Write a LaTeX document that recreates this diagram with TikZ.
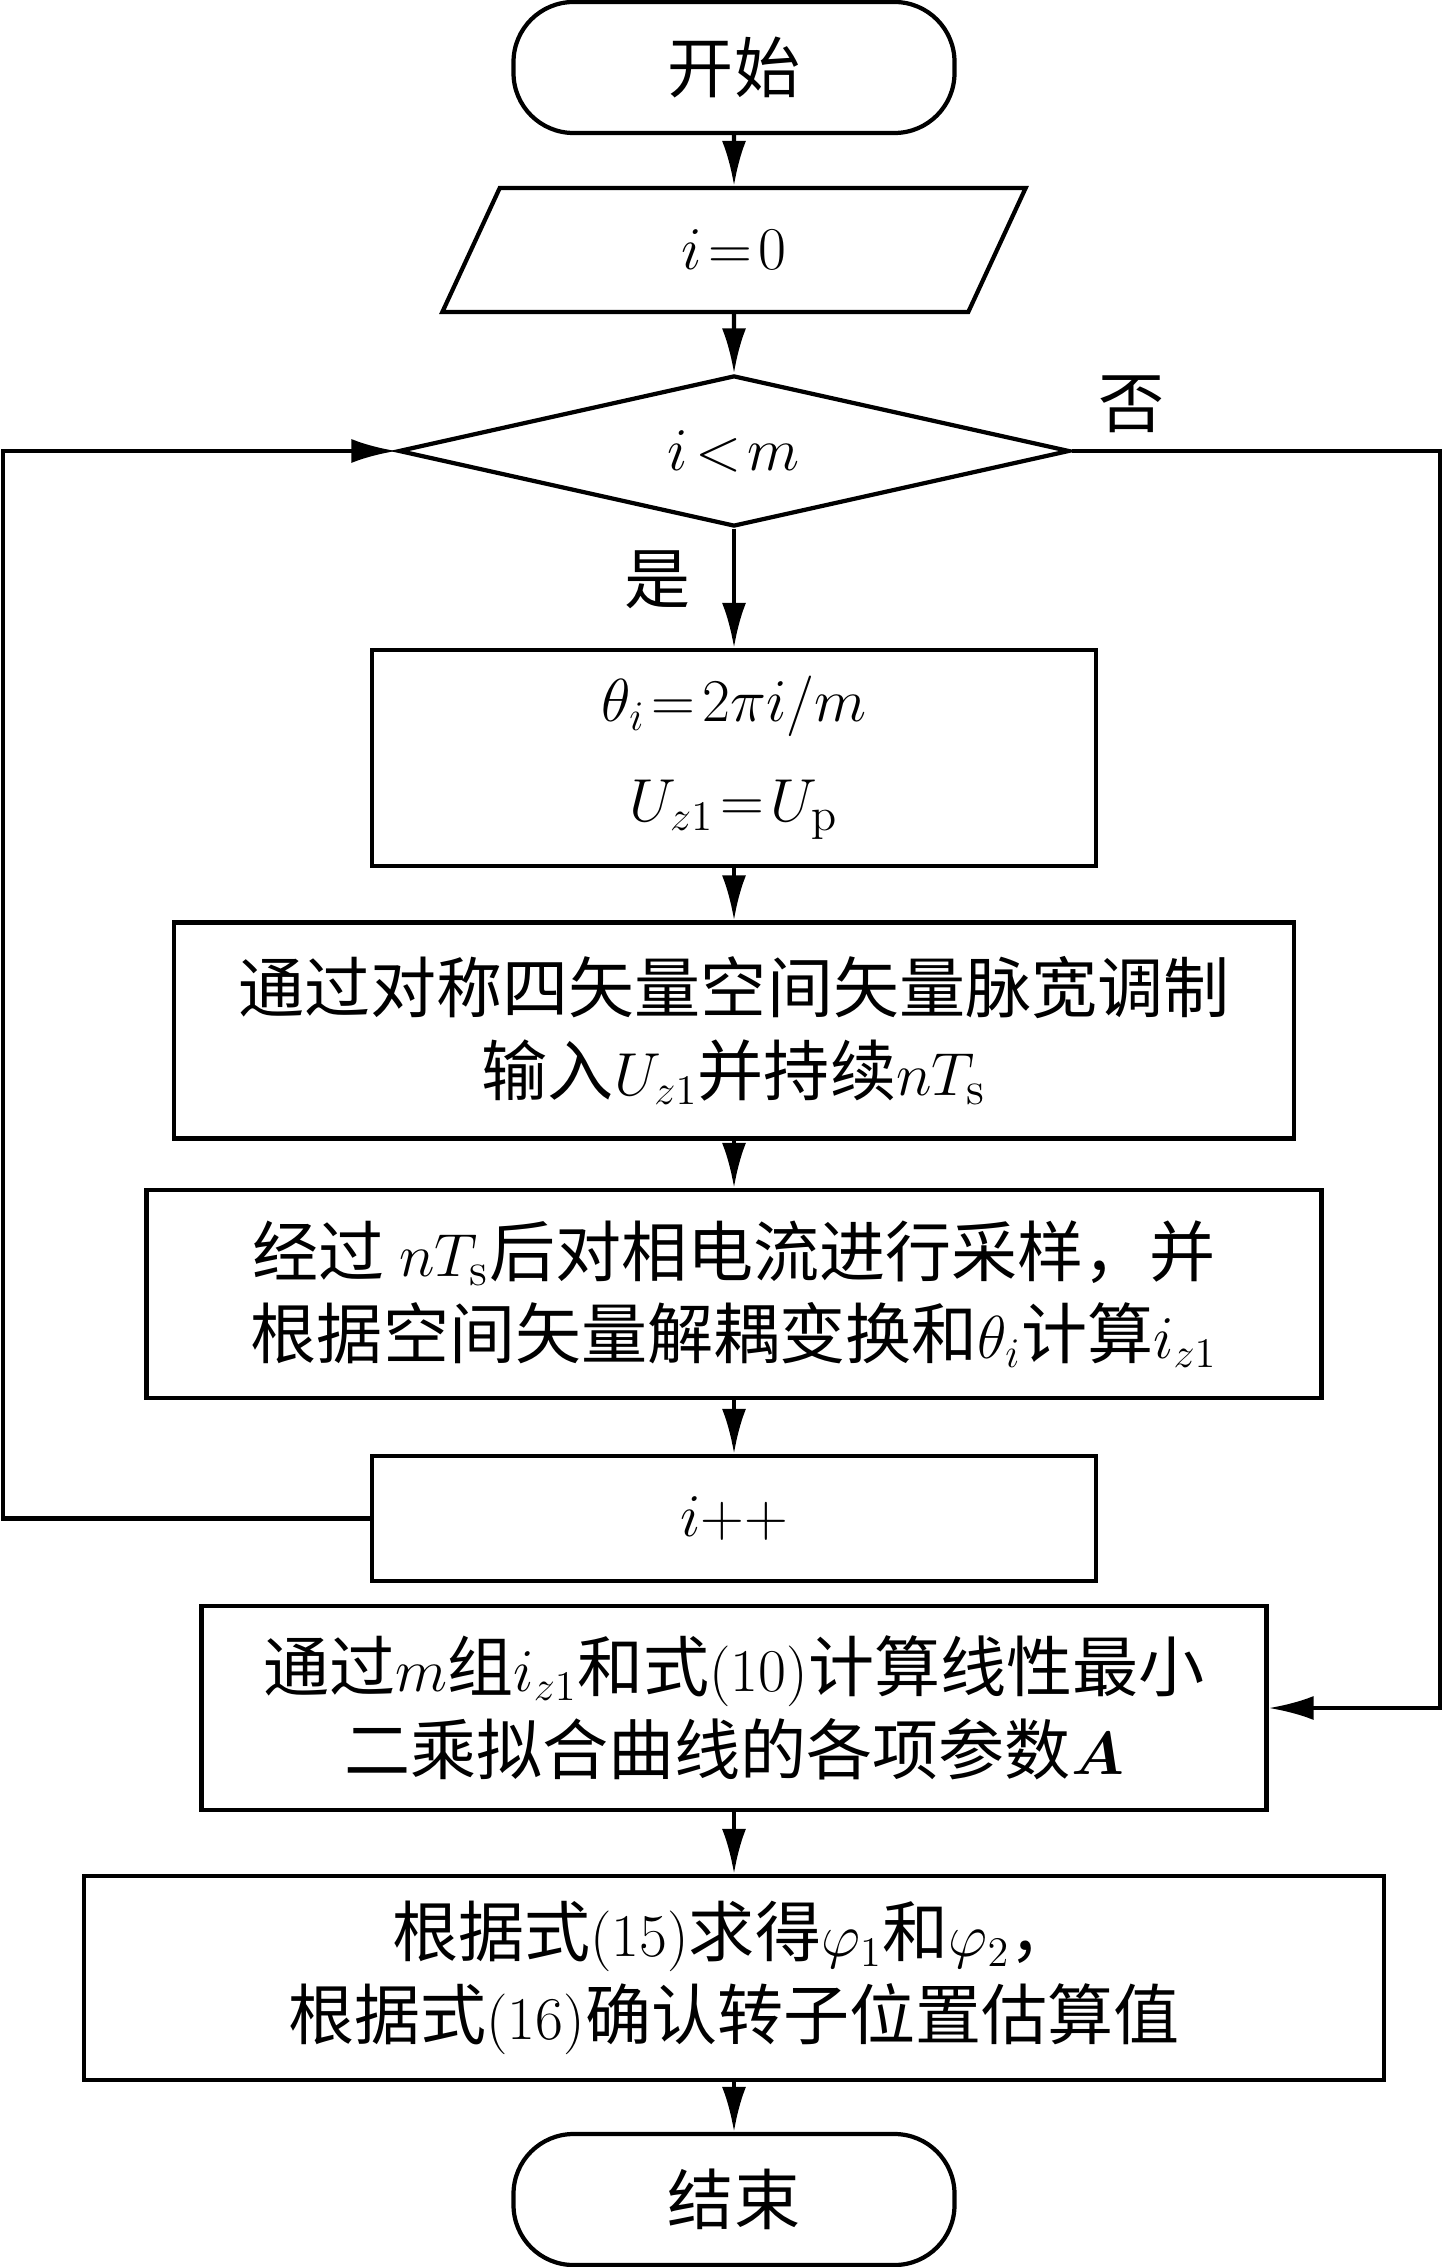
\documentclass[tikz,border=0pt]{standalone}
\usepackage{amsmath}
\usepackage{fontspec}
\newfontfamily\cjk{Noto Sans CJK SC}
\usepackage{tikz}
\usetikzlibrary{positioning}
\usetikzlibrary{shapes,shapes.geometric,arrows.meta}
\tikzstyle{novertex} = [draw=none, fill=none, text centered]
\tikzstyle{terminal} = [rectangle, draw, rounded corners=0.6cm, minimum width=4.41cm, minimum height=1.31cm, text centered]
\tikzstyle{io} = [trapezium, draw, trapezium left angle=76, trapezium right angle=104, trapezium stretches=true, minimum width=5.84cm, minimum height=1.24cm, text centered]
\tikzstyle{decision} = [diamond, draw, aspect=4.44, minimum width=6.71cm, minimum height=1.51cm, inner sep=0pt, text centered]
\tikzstyle{process} = [rectangle, draw, align=center, inner sep=0pt, text centered]
\tikzstyle{flow} = [draw, -{Latex[length=4.5mm, width=2.4mm]}]

\begin{document}
\begin{tikzpicture}[auto, line width=1.2pt, font=\cjk\fontsize{18.8}{23.5}\selectfont]
	\useasboundingbox (0,0) rectangle (14.43,-22.67);

	% place nodes
	\node [terminal] at (7.34,-0.675)                  (N0) {开始};
	\node [io, below of=N0, node distance=1.825cm]       (N1) {$i\!=\!0$};
	\node [decision, below of=N1, node distance=2.01cm]  (N2) {$i\!<\!m$};
	\node [process, below of=N2, node distance=3.07cm, minimum width=7.24cm, minimum height=2.16cm]
		(N3) {$\theta_i\!=\!2\pi i/m$\\[5pt]$U_{z1}\!=\!U_{\mathrm{p}}$};
	\node [process, below of=N3, node distance=2.725cm, minimum width=11.2cm, minimum height=2.16cm]
		(N4) {通过对称四矢量空间矢量脉宽调制\\输入$U_{z1}$并持续$nT_{\mathrm{s}}$};
	\node [process, below of=N4, node distance=2.635cm, minimum width=11.75cm, minimum height=2.08cm]
		(N5) {经过 $nT_{\mathrm{s}}$后对相电流进行采样，并\\根据空间矢量解耦变换和$\theta_i$计算$i_{z1}$};
	\node [process, below of=N5, node distance=2.245cm, minimum width=7.24cm, minimum height=1.25cm]
		(N6) {$i{+}{+}$};
	\node [process, below of=N6, node distance=1.895cm, minimum width=10.65cm, minimum height=2.04cm]
		(N7) {通过$m$组$i_{z1}$和式$(10)$计算线性最小\\二乘拟合曲线的各项参数$\boldsymbol{A}$};
	\node [process, below of=N7, node distance=2.70cm, minimum width=13.0cm, minimum height=2.04cm]
		(N8) {根据式$(15)$求得$\varphi_1$和$\varphi_2$，\\根据式$(16)$确认转子位置估算值};
	\node [terminal, below of=N8, node distance=2.215cm] (N9) {结束};

	% branch labels
	\node [novertex] at (6.58,-5.80)  (NY) {是};
	\node [novertex] at (11.32,-4.04) (NN) {否};

	% loop corners
	\coordinate (CL) at (0.03,0);
	\coordinate (CR) at (14.40,0);

	% draw edges
	\path [flow] (N0) -- (N1);
	\path [flow] (N1) -- (N2);
	\path [flow] (N2) -- (N3);
	\path [flow] (N3) -- (N4);
	\path [flow] (N4) -- (N5);
	\path [flow] (N5) -- (N6);
	\path [flow] (N7) -- (N8);
	\path [flow] (N8) -- (N9);

	\path [flow] (N6.west) -- (CL |- N6) -- (CL |- N2) -- (N2.west);
	\path [flow] (N2.east) -- (CR |- N2) -- (CR |- N7) -- (N7.east);
\end{tikzpicture}
\end{document}
